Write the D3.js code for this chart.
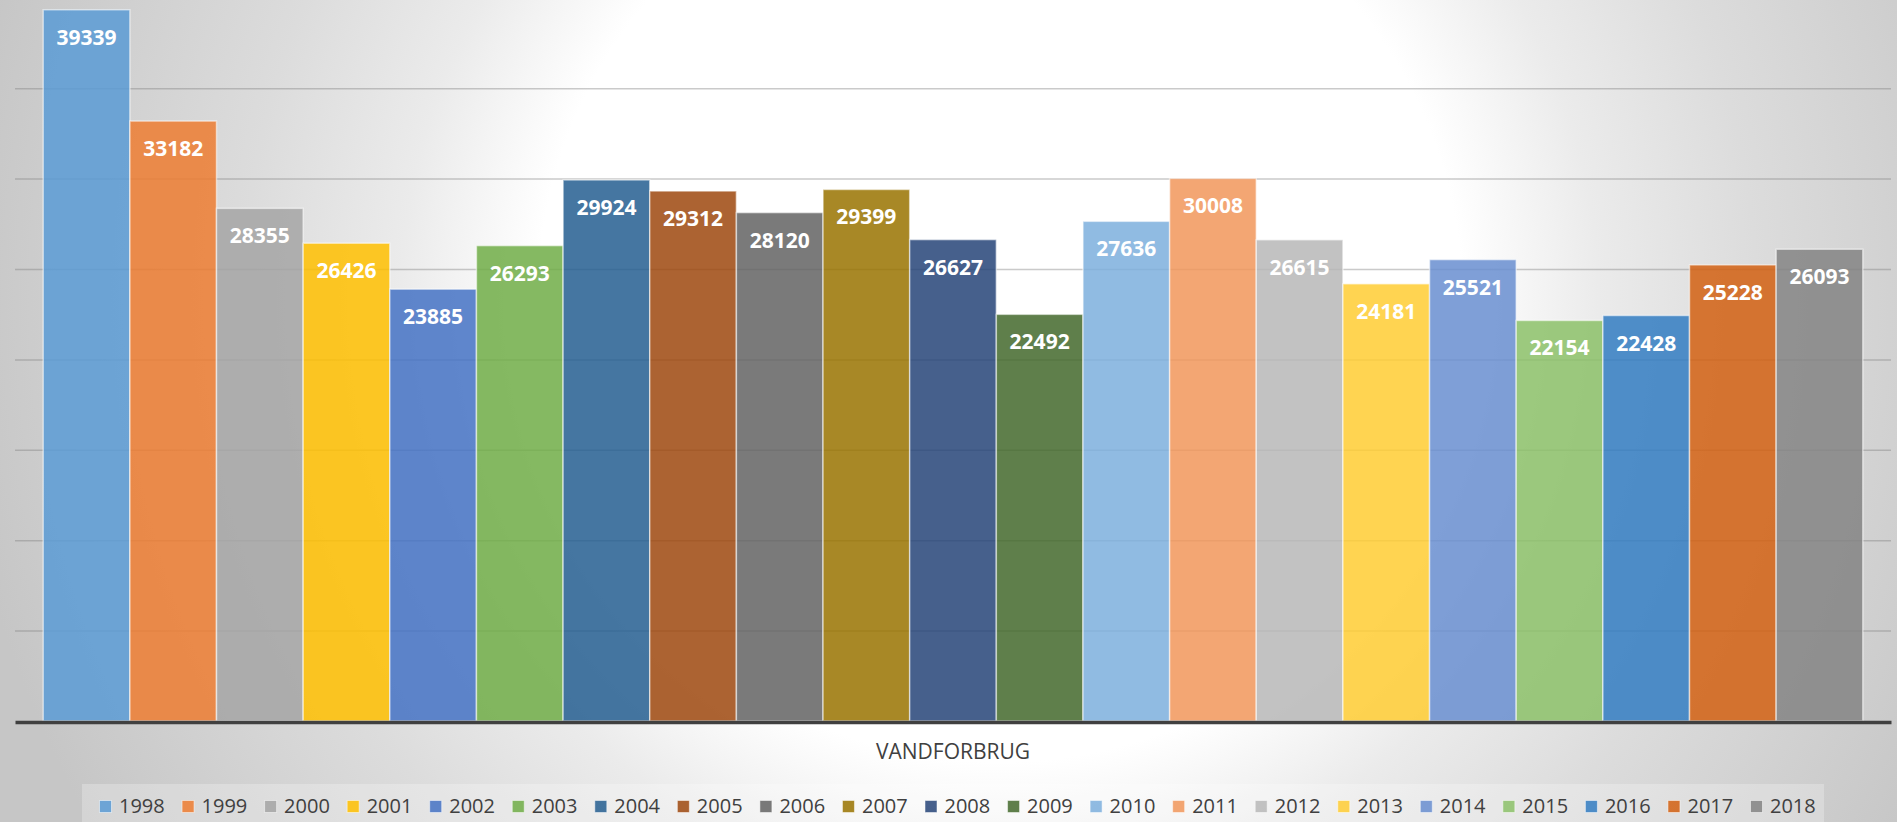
<!DOCTYPE html>
<html>
<head>
<meta charset="utf-8">
<script src="https://cdn.jsdelivr.net/npm/d3@7"></script>
<style>
  html, body { margin: 0; padding: 0; overflow: hidden; }
  svg { display: block; }
</style>
</head>
<body>
<div id="chart"></div>
<script>
// data
const categories = ['VANDFORBRUG'];
const years = ['1998', '1999', '2000', '2001', '2002', '2003', '2004', '2005', '2006', '2007', '2008',
  '2009', '2010', '2011', '2012', '2013', '2014', '2015', '2016', '2017', '2018'];
const values = [39339, 33182, 28355, 26426, 23885, 26293, 29924, 29312, 28120, 29399, 26627,
  22492, 27636, 30008, 26615, 24181, 25521, 22154, 22428, 25228, 26093];
const yTicks = [0, 5000, 10000, 15000, 20000, 25000, 30000, 35000, 40000];
const colors = ['#5B9BD5', '#ED7D31', '#A5A5A5', '#FFC000', '#4472C4', '#70AD47', '#255E91',
  '#9E480E', '#636363', '#997300', '#264478', '#43682B', '#7CAFDD', '#F1975A', '#B7B7B7',
  '#FFCD33', '#698ED0', '#8CC168', '#327DC2', '#D26012', '#848484'];

const W = 1897, H = 822;
const plot = { left: 15, right: 1891, top: -2.2, bottom: 721 };

const svg = d3.select('#chart').append('svg')
  .attr('width', W)
  .attr('height', H)
  .attr('viewBox', `0 0 ${W} ${H}`);

// background, white in the middle, grey towards the edges
const defs = svg.append('defs');
const bg = defs.append('radialGradient')
  .attr('id', 'bg')
  .attr('gradientUnits', 'userSpaceOnUse')
  .attr('cx', 1000).attr('cy', 300).attr('r', 1050);
[[0, '#ffffff'], [0.44, '#ffffff'], [0.57, '#ebebeb'], [0.72, '#dcdcdc'], [1, '#c6c6c6']]
  .forEach(s => bg.append('stop').attr('offset', s[0]).attr('stop-color', s[1]));

svg.append('rect')
  .attr('width', W).attr('height', H)
  .attr('fill', 'url(#bg)');

const y = d3.scaleLinear()
  .domain([0, 40000])
  .range([plot.bottom, plot.top]);

const x0 = d3.scaleBand()
  .domain(categories)
  .range([plot.left, plot.right])
  .paddingOuter(0.0155)
  .paddingInner(0);

const x1 = d3.scaleBand()
  .domain(years)
  .range([x0(categories[0]), x0(categories[0]) + x0.bandwidth()])
  .padding(0);

// gridlines
const grid = svg.append('g')
  .attr('transform', `translate(${plot.left},0)`)
  .call(d3.axisLeft(y)
    .tickValues(yTicks.filter(d => d > 0 && d < 40000))
    .tickSize(-(plot.right - plot.left))
    .tickFormat(''));
grid.select('.domain').remove();
grid.selectAll('line')
  .attr('stroke', '#808080')
  .attr('stroke-opacity', 0.42)
  .attr('stroke-width', 1.5);

// bars
const bars = svg.append('g');
bars.selectAll('rect')
  .data(values)
  .enter()
  .append('rect')
  .attr('x', (d, i) => x1(years[i]))
  .attr('y', d => y(d))
  .attr('width', x1.bandwidth())
  .attr('height', d => y(0) - y(d))
  .attr('fill', (d, i) => colors[i])
  .attr('fill-opacity', 0.85)
  .attr('stroke', '#ffffff')
  .attr('stroke-opacity', 0.55)
  .attr('stroke-width', 1.5);

bars.selectAll('text')
  .data(values)
  .enter()
  .append('text')
  .attr('x', (d, i) => x1(years[i]) + x1.bandwidth() / 2)
  .attr('y', d => y(d) + 35)
  .attr('text-anchor', 'middle')
  .attr('font-family', '"Open Sans", sans-serif')
  .attr('font-weight', 700)
  .attr('font-size', 21)
  .attr('fill', '#ffffff')
  .text(d => d);

// category axis
const xAxis = svg.append('g')
  .attr('transform', `translate(0,${plot.bottom + 1})`)
  .call(d3.axisBottom(x0).tickSize(0).tickPadding(22));
xAxis.select('.domain')
  .attr('stroke', '#404040')
  .attr('stroke-width', 3.5);
xAxis.selectAll('text')
  .attr('font-family', '"Open Sans", sans-serif')
  .attr('font-size', 21)
  .attr('fill', '#404040')
  .attr('dy', '0.71em');

// legend
const legendX = d3.scaleBand()
  .domain(years)
  .range([99, 99 + 21 * 82.55]);

svg.append('rect')
  .attr('x', 82).attr('y', 784)
  .attr('width', 1824 - 82).attr('height', 40)
  .attr('fill', '#ffffff')
  .attr('fill-opacity', 0.25);

const legend = svg.append('g')
  .selectAll('g')
  .data(years)
  .enter()
  .append('g')
  .attr('transform', d => `translate(${legendX(d)},0)`);

legend.append('rect')
  .attr('x', 0.5).attr('y', 800.5)
  .attr('width', 12).attr('height', 12)
  .attr('fill', (d, i) => colors[i])
  .attr('fill-opacity', 0.85)
  .attr('stroke', '#ffffff')
  .attr('stroke-opacity', 0.5);

legend.append('text')
  .attr('x', 20)
  .attr('y', 813)
  .attr('font-family', '"Open Sans", sans-serif')
  .attr('font-size', 20)
  .attr('fill', '#404040')
  .text(d => d);
</script>
</body>
</html>
